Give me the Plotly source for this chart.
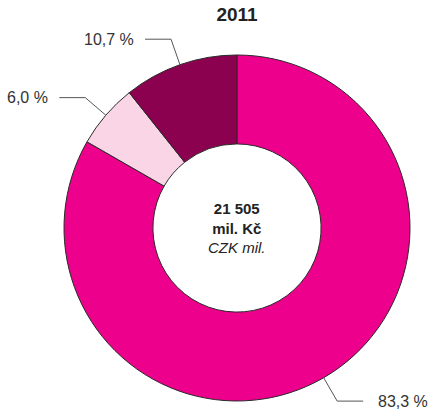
import math
import plotly.graph_objects as go

# ---- data ----
title_text = "2011"
slice_names = ["A", "B", "C"]
slice_values = [83.3, 6.0, 10.7]
slice_labels = ["83,3 %", "6,0 %", "10,7 %"]
slice_colors = ["#EC008C", "#F9D5E6", "#8C0050"]
center_lines = ["<b>21 505</b>", "<b>mil. Kč</b>", "<i>CZK mil.</i>"]

# ---- layout geometry ----
W, H = 436, 412
ML, MR, MT, MB = 64, 26, 55, 11
PW, PH = W - ML - MR, H - MT - MB
HOLE = 0.486
FONT = "Liberation Sans, Arial, Helvetica, sans-serif"

fig = go.Figure(go.Pie(
    labels=slice_names,
    values=slice_values,
    sort=False,
    direction="clockwise",
    rotation=0,
    hole=HOLE,
    textinfo="none",
    hoverinfo="label+value",
    marker=dict(colors=slice_colors, line=dict(color="#2a2a2a", width=1)),
    showlegend=False,
))

# centre of pie and radius in pixels
cx, cy = ML + PW / 2, MT + PH / 2
R = min(PW, PH) / 2


def to_paper(px, py):
    return (px - ML) / PW, (H - MB - py) / PH


shapes = []
annotations = []
total = sum(slice_values)
cum = 0.0
L1, L2, GAP = 27, 26, 9
for v, lab in zip(slice_values, slice_labels):
    mid = (cum + v / 2) / total * 2 * math.pi
    cum += v
    sx, sy = cx + R * math.sin(mid), cy - R * math.cos(mid)
    ex, ey = cx + (R + L1) * math.sin(mid), cy - (R + L1) * math.cos(mid)
    right = math.sin(mid) > 0
    hx = ex + (L2 if right else -L2)
    pts = [to_paper(sx, sy), to_paper(ex, ey), to_paper(hx, ey)]
    path = "M {} {} L {} {} L {} {}".format(*pts[0], *pts[1], *pts[2])
    shapes.append(dict(type="path", xref="paper", yref="paper", path=path,
                       line=dict(color="#555555", width=1)))
    tx, ty = to_paper(hx + (GAP + 4 if right else -GAP), ey)
    annotations.append(dict(x=tx, y=ty, xref="paper", yref="paper",
                            text=lab, showarrow=False,
                            xanchor="left" if right else "right",
                            yanchor="middle",
                            font=dict(size=16, color="#333333", family=FONT)))

annotations.append(dict(x=0.5, y=0.5, xref="paper", yref="paper",
                        text="<br>".join(center_lines), showarrow=False,
                        xanchor="center", yanchor="middle",
                        font=dict(size=15, color="#222222", family=FONT)))

fig.update_layout(
    width=W, height=H,
    margin=dict(l=ML, r=MR, t=MT, b=MB),
    paper_bgcolor="white", plot_bgcolor="white",
    title=dict(text="<b>" + title_text + "</b>", x=(ML + PW / 2) / W, xanchor="center",
               y=1 - 14 / H, yanchor="middle",
               font=dict(size=19, color="#222222", family=FONT)),
    shapes=shapes,
    annotations=annotations,
)

fig.write_html("out.html",
               config={"displayModeBar": False},
               post_script="document.body.style.margin='0';document.body.style.padding='0';")
